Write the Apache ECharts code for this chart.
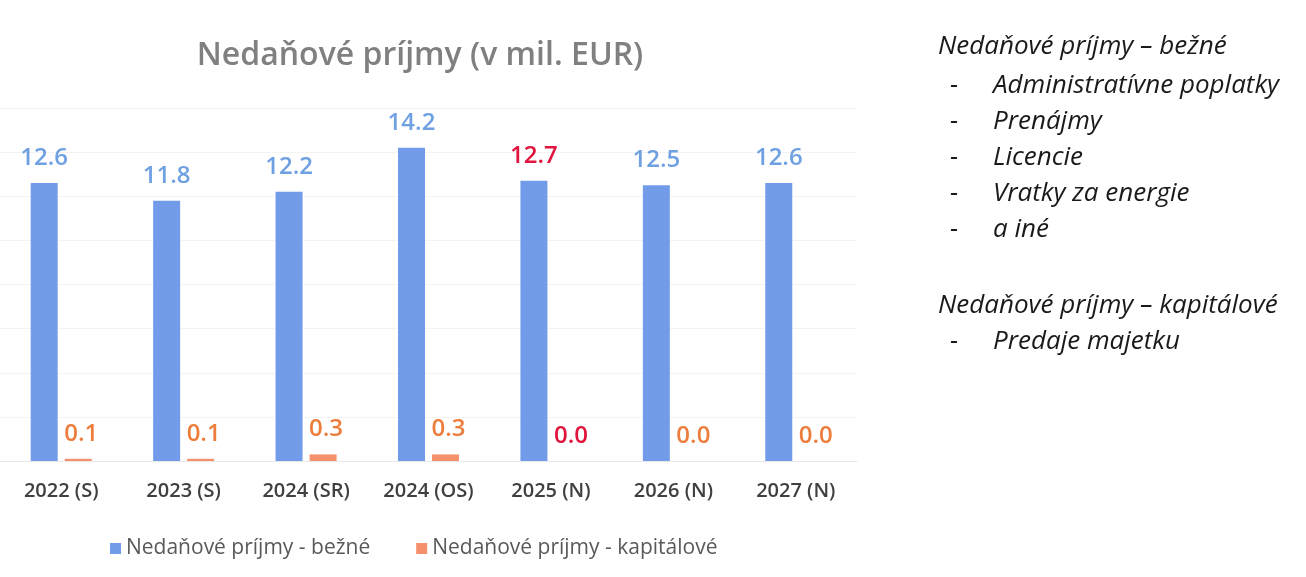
<!DOCTYPE html>
<html>
<head>
<meta charset="utf-8">
<script src="https://cdn.jsdelivr.net/npm/echarts@6/dist/echarts.min.js"></script>
<style>
  html, body { margin: 0; padding: 0; background: #fff; }
  #chart { width: 1306px; height: 577px; }
</style>
</head>
<body>
<div id="chart"></div>
<script>
// kategórie a hodnoty
var categories = ['2022 (S)', '2023 (S)', '2024 (SR)', '2024 (OS)', '2025 (N)', '2026 (N)', '2027 (N)'];
var bezne = [12.6, 11.8, 12.2, 14.2, 12.7, 12.5, 12.6];
var kapitalove = [0.1, 0.1, 0.3, 0.3, 0.0, 0.0, 0.0];
var seriesNames = ['Nedaňové príjmy - bežné', 'Nedaňové príjmy - kapitálové'];
var highlightIndex = 4; // návrh 2025 - popisky červenou

// text vpravo
var noteHeads = ['Nedaňové príjmy – bežné', 'Nedaňové príjmy – kapitálové'];
var noteBezne = ['Administratívne poplatky', 'Prenájmy', 'Licencie', 'Vratky za energie', 'a iné'];
var noteKapitalove = ['Predaje majetku'];

var font = '"Open Sans", Lato, sans-serif';

function withLabelColor(values, color) {
  return values.map(function (v, i) {
    return {
      value: v,
      label: { color: i === highlightIndex ? '#e0143c' : color }
    };
  });
}

// graficke prvky pre poznamky vpravo
var notes = [];
function addText(txt, x, y) {
  notes.push({
    type: 'text',
    x: x, y: y,
    style: { text: txt, fill: '#1a1a1a', font: 'italic 26px ' + font, textVerticalAlign: 'middle' }
  });
}
addText(noteHeads[0], 938, 47);
noteBezne.forEach(function (t, i) {
  addText('-', 950, 86 + i * 36);
  addText(t, 993, 86 + i * 36);
});
addText(noteHeads[1], 938, 306);
noteKapitalove.forEach(function (t, i) {
  addText('-', 950, 342 + i * 36);
  addText(t, 993, 342 + i * 36);
});

var chart = echarts.init(document.getElementById('chart'));
chart.setOption({
  animation: false,
  textStyle: { fontFamily: font },
  title: {
    text: 'Nedaňové príjmy (v mil. EUR)',
    left: 415,
    textAlign: 'center',
    top: 35,
    textStyle: { fontSize: 32, fontWeight: 600, color: '#808080', fontFamily: font }
  },
  legend: {
    data: seriesNames,
    left: 105,
    top: 533,
    icon: 'rect',
    itemWidth: 11,
    itemHeight: 11,
    itemGap: 46,
    textStyle: { fontSize: 21, color: '#595959', fontFamily: font }
  },
  grid: { left: 0, right: 449, top: 108, bottom: 116 },
  xAxis: {
    type: 'category',
    data: categories,
    axisLine: { lineStyle: { color: '#e8e8e8' } },
    axisTick: { show: false },
    axisLabel: { color: '#404040', fontSize: 20, fontWeight: 600, margin: 20, fontFamily: font }
  },
  yAxis: {
    type: 'value',
    min: 0,
    max: 16,
    interval: 2,
    axisLabel: { show: false },
    axisLine: { show: false },
    axisTick: { show: false },
    splitLine: { lineStyle: { color: '#f3f3f3' } }
  },
  series: [
    {
      name: seriesNames[0],
      type: 'bar',
      barWidth: 27,
      barGap: '26%',
      itemStyle: { color: '#729cea' },
      label: {
        show: true, position: 'top', distance: 13,
        fontSize: 24, fontWeight: 600, fontFamily: font,
        formatter: function (p) { return p.value.toFixed(1); }
      },
      data: withLabelColor(bezne, '#6fa1e2')
    },
    {
      name: seriesNames[1],
      type: 'bar',
      barWidth: 27,
      itemStyle: { color: '#f4916c' },
      label: {
        show: true, position: 'top', distance: 13, offset: [3, 0],
        fontSize: 24, fontWeight: 600, fontFamily: font,
        formatter: function (p) { return p.value.toFixed(1); }
      },
      data: withLabelColor(kapitalove, '#ec7d3c')
    }
  ],
  graphic: notes
});
</script>
</body>
</html>
